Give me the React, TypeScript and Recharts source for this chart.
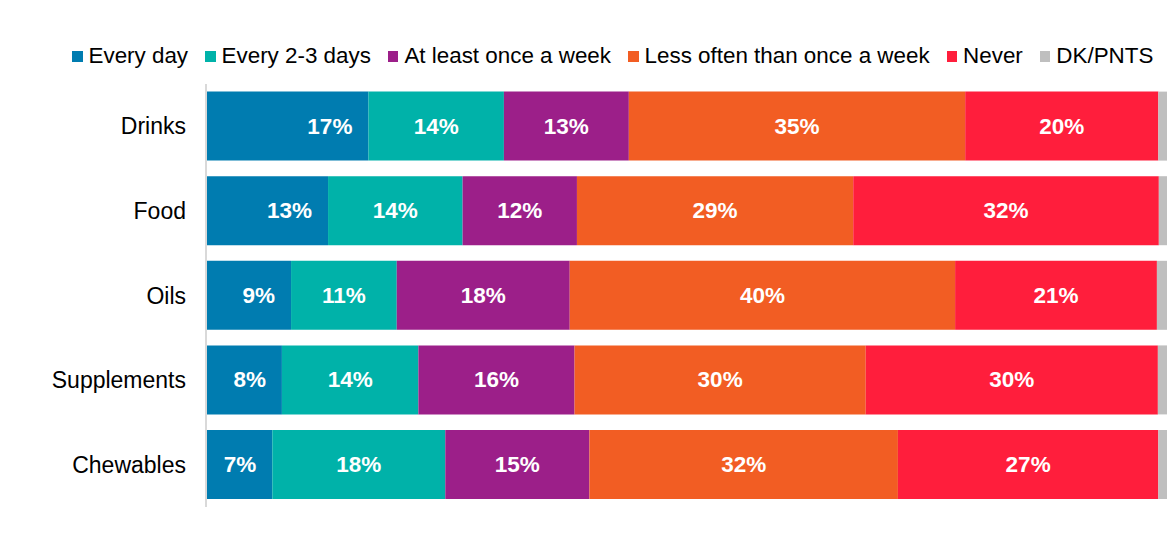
import { BarChart, Bar, XAxis, YAxis, Legend, LabelList } from 'recharts'

const categories = ['Drinks', 'Food', 'Oils', 'Supplements', 'Chewables']
const everyDay = [16.9, 12.7, 8.85, 7.9, 6.9]
const every23 = [14.1, 14.0, 11.0, 14.2, 18.0]
const weekly = [13.0, 11.9, 18.0, 16.25, 15.0]
const lessOften = [35.0, 28.75, 40.1, 30.3, 32.1]
const never = [20.1, 31.8, 21.0, 30.4, 27.1]
const dkPnts = [0.9, 0.85, 1.05, 0.95, 0.9]

const series = [
  { key: 'everyDay', name: 'Every day', color: '#007CB0', values: everyDay },
  { key: 'every23', name: 'Every 2-3 days', color: '#00B2A9', values: every23 },
  { key: 'weekly', name: 'At least once a week', color: '#9C1F89', values: weekly },
  { key: 'lessOften', name: 'Less often than once a week', color: '#F25D23', values: lessOften },
  { key: 'never', name: 'Never', color: '#FF1E3C', values: never },
  { key: 'dk', name: 'DK/PNTS', color: '#BFBFBF', values: dkPnts },
]

const data = categories.map((c, i) => {
  const row: Record<string, string | number> = { name: c }
  series.forEach((s) => {
    row[s.key] = s.values[i]
  })
  return row
})

const FONT = 'Arial, "Liberation Sans", sans-serif'

function LegendBox() {
  return (
    <div
      style={{
        display: 'flex',
        alignItems: 'center',
        height: 36,
        paddingLeft: 72,
        fontFamily: FONT,
        fontSize: 22.4,
        color: '#000',
        whiteSpace: 'nowrap',
      }}
    >
      {series.map((s) => (
        <div key={s.key} style={{ display: 'flex', alignItems: 'center', marginRight: 17 }}>
          <span style={{ width: 10.5, height: 11, background: s.color, marginRight: 6, display: 'inline-block' }} />
          <span>{s.name}</span>
        </div>
      ))}
    </div>
  )
}

function makeLabel(endAligned: boolean) {
  return (props: any) => {
    const { x, y, width, height, value } = props
    const tx = endAligned ? x + width - 16 : x + width / 2
    return (
      <text
        x={tx}
        y={y + height / 2}
        textAnchor={endAligned ? 'end' : 'middle'}
        dominantBaseline="central"
        fill="#fff"
        fontFamily={FONT}
        fontWeight="bold"
        fontSize={22.5}
      >
        {`${Math.round(value)}%`}
      </text>
    )
  }
}

export default function App() {
  return (
    <div>
      <style>{'body{margin:0}'}</style>
      <BarChart
        width={1167}
        height={538}
        data={data}
        layout="vertical"
        barCategoryGap="9%"
        margin={{ top: 48, right: 0, bottom: 31, left: 0 }}
      >
        <Legend
          verticalAlign="top"
          content={() => <LegendBox />}
          wrapperStyle={{ top: 38, left: 0, width: 1167 }}
        />
        <XAxis type="number" domain={[0, 100]} allowDataOverflow hide />
        <YAxis
          type="category"
          dataKey="name"
          width={206}
          axisLine={{ stroke: '#D9D9D9', strokeWidth: 2 }}
          tickLine={false}
          tickSize={0}
          tickMargin={20}
          tick={{ fill: '#000', fontSize: 23, fontFamily: FONT }}
        />
        {series.map((s, i) => (
          <Bar key={s.key} dataKey={s.key} name={s.name} stackId="a" fill={s.color} isAnimationActive={false}>
            {s.key !== 'dk' && <LabelList dataKey={s.key} content={makeLabel(i === 0)} />}
          </Bar>
        ))}
      </BarChart>
    </div>
  )
}
